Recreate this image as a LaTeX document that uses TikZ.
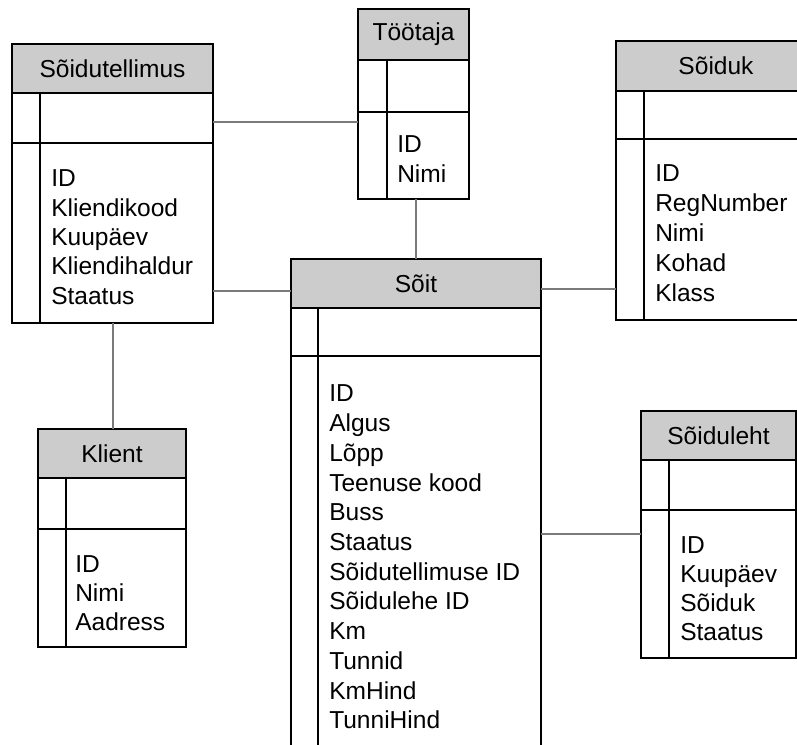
\documentclass[tikz,border=0pt]{standalone}
\usepackage{fontspec}
\setmainfont{Liberation Sans}
\definecolor{hdrgray}{HTML}{CCCCCC}
\definecolor{congray}{HTML}{7A7A7A}
\newcommand\erfont{\fontsize{18.4pt}{22pt}\selectfont}
% #1 name, #2 L, #3 T, #4 R, #5 header bottom, #6 row line, #7 bottom, #8 inner x, #9 title
\newcommand\ertab[9]{%
  \node[tabbox, anchor=north west, minimum width={(#4-#2)*0.75pt}, minimum height={(#7-#3)*0.75pt}] (#1) at (#2,#3) {};
  \node[hdrbox, anchor=north west, minimum width={(#4-#2)*0.75pt}, minimum height={(#5-#3)*0.75pt}] (#1-h) at (#2,#3) {#9};
  \draw[tabline] (#1.west |- 0,#6) -- (#1.east |- 0,#6);
  \draw[tabline] (#8,#5) -- (#8,#7);
}
\begin{document}
\begin{tikzpicture}[x=0.75pt,y=-0.75pt,
  tabbox/.style={draw=black, line width=1.1pt, fill=white, inner sep=0pt, outer sep=0pt},
  hdrbox/.style={draw=black, line width=1.1pt, fill=hdrgray, inner sep=0pt, outer sep=0pt, font=\erfont},
  tabline/.style={draw=black, line width=1.1pt},
  field/.style={anchor=base west, inner sep=0pt, font=\erfont},
  conn/.style={draw=congray, line width=0.8pt}]
\useasboundingbox (0,0) rectangle (797,745);
\clip (0,0) rectangle (797,745);
\fill[white] (0,0) rectangle (797,745);

% connector coordinates
\coordinate (y1) at (0,122);
\coordinate (x2) at (416,0);
\coordinate (y3) at (0,291);
\coordinate (y4) at (0,289);
\coordinate (x5) at (113,0);
\coordinate (y6) at (0,534);

% tables
\ertab{tell}{12}{44}{213}{93}{143}{323}{40}{Sõidutellimus}
\foreach \t [count=\i from 0] in {ID,Kliendikood,Kuupäev,Kliendihaldur,Staatus}
  \node[field] (tell-f\i) at (51,{187+29.3*\i}) {\t};

\ertab{too}{358}{9}{469}{60}{112}{199}{387}{Töötaja}
\foreach \t [count=\i from 0] in {ID,Nimi}
  \node[field] (too-f\i) at (397,{153+29.3*\i}) {\t};

\ertab{sduk}{616}{41}{816}{91}{139}{320}{644}{Sõiduk}
\foreach \t [count=\i from 0] in {ID,RegNumber,Nimi,Kohad,Klass}
  \node[field] (sduk-f\i) at (655,{182+29.8*\i}) {\t};

\ertab{soit}{291}{259}{541}{308}{356}{770}{318}{Sõit}
\foreach \t [count=\i from 0] in {ID,Algus,Lõpp,Teenuse kood,Buss,Staatus,Sõidutellimuse ID,Sõidulehe ID,Km,Tunnid,KmHind,TunniHind}
  \node[field] (soit-f\i) at (329,{402+29.7*\i}) {\t};

\ertab{klient}{38}{429}{186}{478}{529}{647}{66}{Klient}
\foreach \t [count=\i from 0] in {ID,Nimi,Aadress}
  \node[field] (klient-f\i) at (75,{572+29.2*\i}) {\t};

\ertab{leht}{641}{411}{796}{460}{510}{658}{669}{Sõiduleht}
\foreach \t [count=\i from 0] in {ID,Kuupäev,Sõiduk,Staatus}
  \node[field] (leht-f\i) at (680,{553+29.2*\i}) {\t};

% connectors
\draw[conn] (tell.east |- y1) -- (too.west |- y1);
\draw[conn] (too.south -| x2) -- (soit.north -| x2);
\draw[conn] (tell.east |- y3) -- (soit.west |- y3);
\draw[conn] (soit.east |- y4) -- (sduk.west |- y4);
\draw[conn] (tell.south -| x5) -- (klient.north -| x5);
\draw[conn] (soit.east |- y6) -- (leht.west |- y6);
\end{tikzpicture}
\end{document}
